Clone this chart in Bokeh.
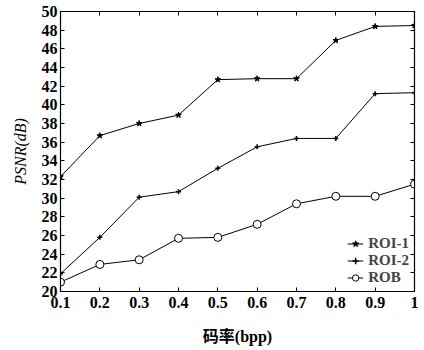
from bokeh.plotting import figure
from bokeh.models import FixedTicker, LinearAxis, Legend, CustomJSTickFormatter
from bokeh.embed import file_html
from bokeh.resources import INLINE

bpp = [0.1, 0.2, 0.3, 0.4, 0.5, 0.6, 0.7, 0.8, 0.9, 1.0]
roi1 = [32.3, 36.7, 38.0, 38.9, 42.7, 42.8, 42.8, 46.9, 48.4, 48.5]
roi2 = [21.9, 25.8, 30.1, 30.7, 33.2, 35.5, 36.4, 36.4, 41.2, 41.3]
rob = [21.0, 22.9, 23.4, 25.7, 25.8, 27.2, 29.4, 30.2, 30.2, 31.5]
x_ticks = [0.1, 0.2, 0.3, 0.4, 0.5, 0.6, 0.7, 0.8, 0.9, 1.0]
y_ticks = list(range(20, 51, 2))

SERIF = "Liberation Serif"

p = figure(width=422, height=348, output_backend="svg", toolbar_location=None,
           x_range=(0.1, 1.0), y_range=(20, 50),
           min_border_left=60, min_border_right=8, min_border_top=11, min_border_bottom=57)
p.grid.visible = False
p.outline_line_color = "black"
p.outline_line_width = 1.2

def style_axis(ax):
    ax.axis_line_color = "black"
    ax.major_tick_in = 4
    ax.major_tick_out = 0
    ax.minor_tick_in = 0
    ax.minor_tick_out = 0
    ax.major_label_text_font = SERIF
    ax.major_label_text_font_style = "bold"
    ax.major_label_text_font_size = "16px"
    ax.major_label_text_color = "black"

xa = p.xaxis[0]
ya = p.yaxis[0]
xa.ticker = FixedTicker(ticks=x_ticks)
ya.ticker = FixedTicker(ticks=y_ticks)
xa.major_label_overrides = {1.0: "1", 1: "1"}
style_axis(xa)
style_axis(ya)
xa.major_label_standoff = 5
ya.major_label_standoff = 3

xa.axis_label = "码率(bpp)"
xa.axis_label_text_font = "Liberation Serif, Noto Sans CJK SC"
xa.axis_label_text_font_style = "bold"
xa.axis_label_text_font_size = "16px"
xa.axis_label_text_color = "black"
xa.axis_label_standoff = 17

ya.axis_label = "PSNR(dB)"
ya.axis_label_text_font = SERIF
ya.axis_label_text_font_style = "italic"
ya.axis_label_text_font_size = "16px"
ya.axis_label_text_color = "black"
ya.axis_label_standoff = 10

empty = CustomJSTickFormatter(code="return ''")
top = LinearAxis(ticker=FixedTicker(ticks=x_ticks), formatter=empty)
style_axis(top)
right = LinearAxis(ticker=FixedTicker(ticks=y_ticks), formatter=empty)
style_axis(right)
top.major_label_standoff = 0
right.major_label_standoff = 0
p.add_layout(top, "above")
p.add_layout(right, "right")

l1 = p.line(bpp, roi1, line_color="black", line_width=1)
m1 = p.scatter(bpp, roi1, marker="star", size=6, line_color="black", fill_color="black")
l2 = p.line(bpp, roi2, line_color="black", line_width=1)
m2 = p.scatter(bpp, roi2, marker="cross", size=5, line_color="black", line_width=1.5)
l3 = p.line(bpp, rob, line_color="black", line_width=1)
m3 = p.scatter(bpp, rob, marker="circle", size=8, line_color="black", fill_color="white")

legend = Legend(items=[("ROI-1", [l1, m1]), ("ROI-2", [l2, m2]), ("ROB", [l3, m3])],
                location="bottom_right")
legend.border_line_alpha = 0
legend.background_fill_alpha = 0
legend.label_text_font = SERIF
legend.label_text_font_style = "bold"
legend.label_text_font_size = "15px"
legend.glyph_width = 16
legend.glyph_height = 17
legend.label_height = 17
legend.spacing = 0
legend.padding = 3
legend.margin = 2
legend.label_standoff = 5
p.add_layout(legend)

open("out.html", "w").write(file_html(p, INLINE))
